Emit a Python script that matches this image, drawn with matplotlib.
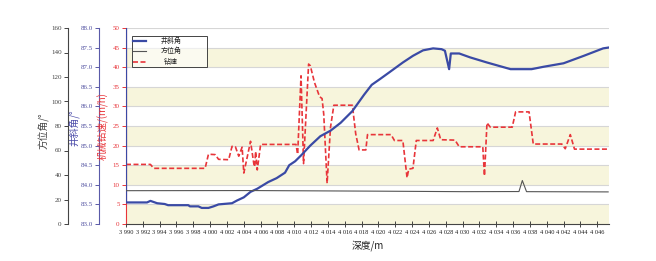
import matplotlib
matplotlib.use('Agg')
import matplotlib.pyplot as plt
from matplotlib.ticker import FuncFormatter, MultipleLocator
from matplotlib.lines import Line2D
from matplotlib.patches import Rectangle

plt.rcParams['font.family'] = ['Liberation Serif', 'Noto Sans CJK SC']
cjk = ['Noto Sans CJK SC', 'DejaVu Sans']

# ---- data ----
# 钻速 (m/h)
rop_depth = [3990.0, 3992.9, 3993.3, 3999.4, 3999.8, 4000.6, 4001.0, 4002.2, 4002.6, 4003.0,
             4003.4, 4003.8, 4004.0, 4004.4, 4004.8, 4005.2, 4005.3, 4005.4, 4005.6, 4006.0,
             4010.2, 4010.4, 4010.8, 4011.1, 4011.7, 4011.9, 4012.4, 4013.0, 4013.3, 4013.5,
             4013.9, 4014.3, 4014.7, 4016.9, 4017.3, 4017.7, 4018.5, 4018.7, 4021.5, 4021.9,
             4022.9, 4023.4, 4023.6, 4024.1, 4024.5, 4026.5, 4027.0, 4027.4, 4029.1, 4029.6,
             4032.4, 4032.6, 4032.9, 4033.3, 4035.9, 4036.3, 4037.9, 4038.4, 4041.8, 4042.2,
             4042.8, 4043.3, 4047.3]
rop = [15.2, 15.2, 14.2, 14.2, 17.8, 17.7, 16.5, 16.4, 19.8, 19.7,
       17.3, 19.6, 13.0, 17.0, 21.1, 15.2, 14.6, 18.5, 13.8, 20.3,
       20.3, 17.8, 37.8, 15.4, 40.8, 40.4, 36.1, 32.5, 32.0, 28.0,
       10.4, 24.6, 30.3, 30.3, 23.0, 18.9, 18.9, 22.8, 22.8, 21.3,
       21.3, 11.8, 14.0, 14.2, 21.3, 21.3, 24.5, 21.5, 21.4, 19.7,
       19.7, 12.3, 25.8, 24.7, 24.7, 28.6, 28.6, 20.4, 20.4, 19.2,
       22.8, 19.1, 19.1]

# 井斜角 (deg)
inc_depth = [3990.0, 3990.0, 3992.5, 3992.9, 3993.7, 3994.6, 3995.0, 3997.4, 3997.6, 3998.6,
             3999.0, 3999.8, 4000.4, 4001.0, 4002.6, 4003.2, 4004.0, 4004.8, 4005.6, 4006.9,
             4007.9, 4008.9, 4009.4, 4010.1, 4010.9, 4011.9, 4013.1, 4014.3, 4015.5, 4016.9,
             4018.3, 4019.2, 4020.2, 4021.3, 4022.9, 4024.1, 4025.3, 4026.5, 4027.5, 4027.9,
             4028.4, 4028.6, 4029.6, 4030.9, 4032.9, 4035.7, 4038.2, 4039.6, 4042.0, 4044.4,
             4046.7, 4047.3]
inc = [88.0, 83.55, 83.55, 83.59, 83.53, 83.51, 83.48, 83.48, 83.45, 83.45,
       83.41, 83.41, 83.45, 83.50, 83.53, 83.60, 83.68, 83.82, 83.90, 84.07,
       84.17, 84.31, 84.50, 84.60, 84.77, 85.00, 85.24, 85.38, 85.58, 85.88,
       86.30, 86.55, 86.70, 86.87, 87.12, 87.29, 87.43, 87.48, 87.46, 87.42,
       86.95, 87.35, 87.35, 87.25, 87.12, 86.95, 86.95, 87.01, 87.10, 87.29,
       87.48, 87.50]

# 方位角 (deg)
azi_depth = [3990.0, 4005.0, 4020.0, 4030.0, 4036.7, 4037.1, 4037.6, 4047.3]
azi = [27.2, 27.3, 26.8, 26.4, 26.5, 35.5, 26.4, 26.2]

legend_labels = ['井斜角', '方位角', '钻速']

red = '#e8353a'
blue = '#3a4aa5'
gray = '#555555'

fig = plt.figure(figsize=(6.56, 2.61), dpi=100)
ax = fig.add_axes([126 / 656, 1 - 224 / 261, 483 / 656, 196 / 261])

# background bands + grid
for lo in range(0, 50, 10):
    ax.axhspan(lo, lo + 5, color='#f7f5dc', lw=0, zorder=0)
for g in range(5, 51, 5):
    ax.axhline(g, color='#d6d6d6', lw=0.8, zorder=0.5)

ax.plot(rop_depth, rop, color=red, lw=1.2, ls=(0, (3, 1.5)), zorder=3)
ax.set_xlim(3990, 4047.4)
ax.set_ylim(0, 50)
ax.yaxis.set_major_locator(MultipleLocator(5))
ax.xaxis.set_major_locator(MultipleLocator(2))
ax.xaxis.set_major_formatter(FuncFormatter(lambda v, p: '%d %03d' % (int(v) // 1000, int(v) % 1000)))
ax.tick_params(axis='x', direction='inout', length=5, width=0.7, color='#444444',
               labelsize=4.6, pad=1.5, labelcolor='#222222')
ax.tick_params(axis='y', direction='out', length=3, width=0.7, color=red,
               labelsize=5, pad=1.5, labelcolor=red)
ax.spines['top'].set_visible(False)
ax.spines['right'].set_visible(False)
ax.spines['left'].set_color(red)
ax.spines['bottom'].set_color('#444444')
ax.spines['bottom'].set_linewidth(0.8)

# 井斜角 axis
ax_b = ax.twinx()
ax_b.plot(inc_depth, inc, color=blue, lw=1.6, zorder=4)
ax_b.set_ylim(83, 88)
ax_b.yaxis.set_major_locator(MultipleLocator(0.5))
ax_b.yaxis.set_major_formatter(FuncFormatter(lambda v, p: '%.1f' % v))

# 方位角 axis
ax_g = ax.twinx()
ax_g.plot(azi_depth, azi, color=gray, lw=0.8, zorder=4)
ax_g.set_ylim(0, 160)
ax_g.yaxis.set_major_locator(MultipleLocator(20))

for a, off, c, lc in [(ax_b, 27, '#5a5aa8', '#5050a0'), (ax_g, 58, '#444444', '#444444')]:
    a.spines['right'].set_visible(False)
    a.spines['top'].set_visible(False)
    a.spines['bottom'].set_visible(False)
    a.spines['left'].set_visible(True)
    a.spines['left'].set_position(('outward', off * 0.72))
    a.spines['left'].set_color(c)
    a.spines['left'].set_linewidth(0.8)
    a.yaxis.set_ticks_position('left')
    a.tick_params(axis='y', direction='out', length=3, width=0.7, color=c,
                  labelsize=5, pad=1.5, labelcolor=lc)

# axis titles
fig.text(44 / 656, 1 - 131 / 261, '方位角/°', rotation=90, ha='center', va='center',
         fontsize=7, color='#444444', family=cjk)
fig.text(75 / 656, 1 - 128 / 261, '井斜角/°', rotation=90, ha='center', va='center',
         fontsize=7, color='#4a4aa8', family=cjk)
fig.text(103 / 656, 1 - 126 / 261, '机械钻速/(m/h)', rotation=90, ha='center', va='center',
         fontsize=7, color=red, family=cjk)
fig.text(368 / 656, 1 - 246 / 261, '深度/m', ha='center', va='center',
         fontsize=7, color='#222222', family=cjk)

# legend box
x0, x1 = (131.7 - 126) / 483, (206.7 - 126) / 483
y1, y0 = (224 - 36) / 196, (224 - 66.7) / 196
ax_g.add_patch(Rectangle((x0, y0), x1 - x0, y1 - y0, transform=ax_g.transAxes,
                         facecolor='white', alpha=0.6, edgecolor='none', zorder=5))
ax_g.add_patch(Rectangle((x0, y0), x1 - x0, y1 - y0, transform=ax_g.transAxes,
                         facecolor='none', edgecolor='#444444', lw=0.7, zorder=6))
styles = [dict(color=blue, lw=1.6), dict(color=gray, lw=0.8), dict(color=red, lw=1.2, ls=(0, (3, 1.5)))]
rh = (y1 - y0) / 3
for i, (lab, st) in enumerate(zip(legend_labels, styles)):
    yc = y1 - rh * (i + 0.5)
    ax_g.add_line(Line2D([(132.5 - 126) / 483, (146 - 126) / 483], [yc, yc],
                         transform=ax_g.transAxes, zorder=7, **st))
    ax_g.text((171 - 126) / 483, yc, lab, transform=ax_g.transAxes, ha='center', va='center',
              fontsize=5, family=cjk, color='#222222', zorder=7)

plt.savefig('out.png', dpi=100)
